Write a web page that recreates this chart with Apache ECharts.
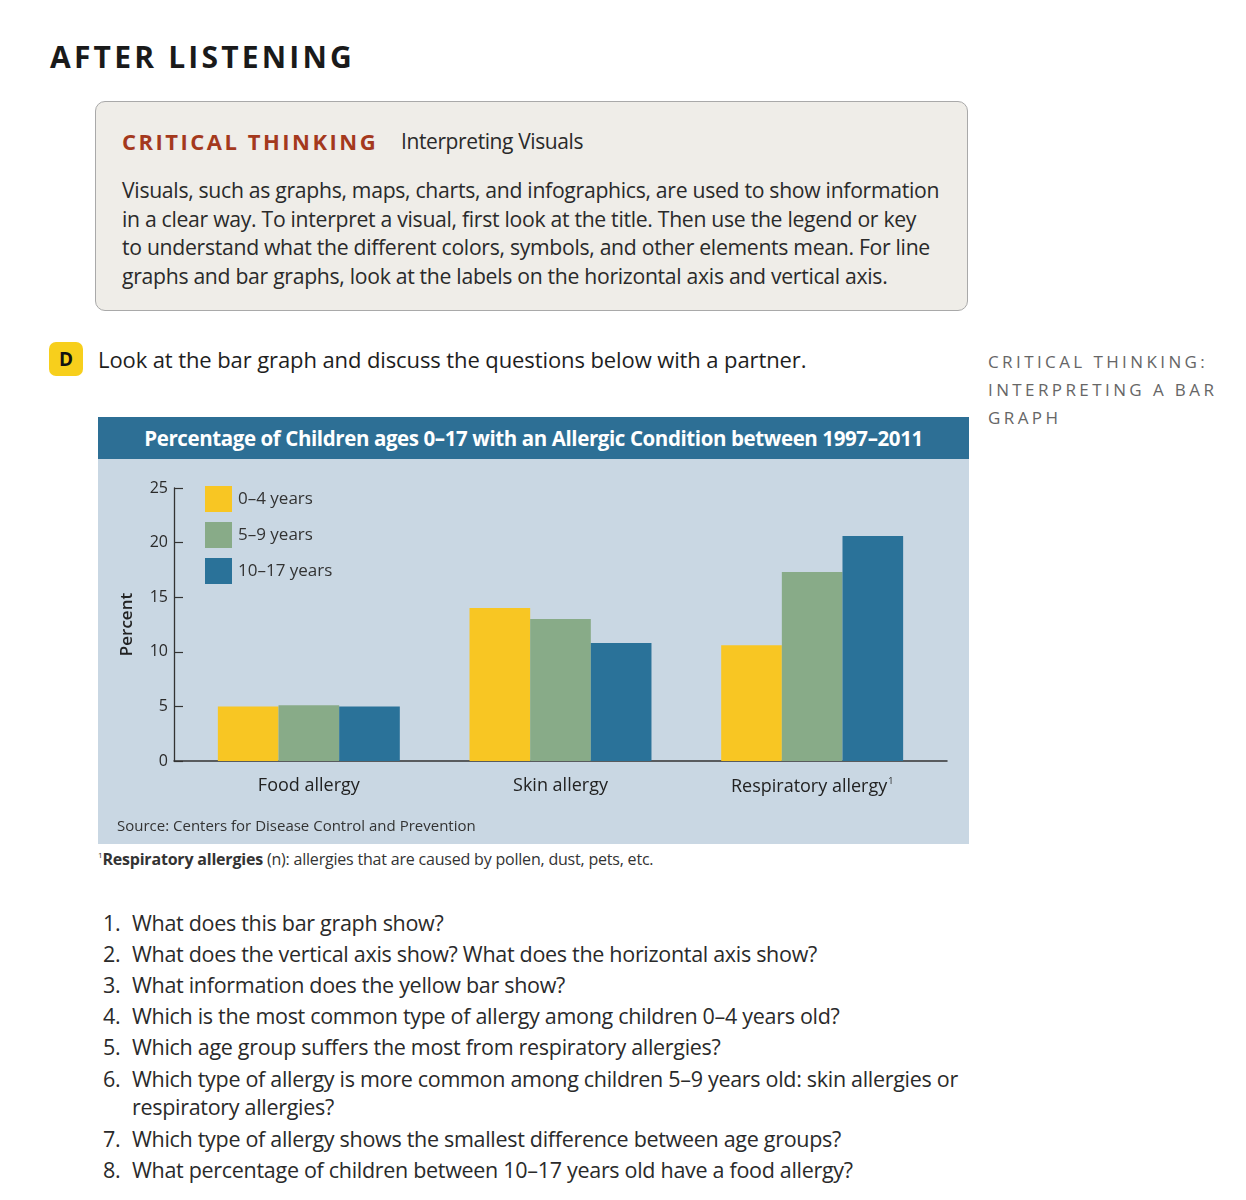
<!DOCTYPE html>
<html>
<head>
<meta charset="utf-8">
<script src="https://cdn.jsdelivr.net/npm/echarts@6/dist/echarts.min.js"></script>
<style>
  html,body{margin:0;padding:0;background:#fff;}
  body{width:1246px;height:1200px;position:relative;font-family:"Open Sans","Noto Sans",sans-serif;color:#222;overflow:hidden;}
  .abs{position:absolute;white-space:nowrap;}
  #h1{left:50px;top:36px;font-size:30px;font-weight:700;letter-spacing:3.2px;color:#1a1a1a;}
  #ctbox{left:95px;top:101px;width:873px;height:210px;background:#efede8;border:1.5px solid #a9a9a9;border-radius:10px;box-sizing:border-box;}
  #cthead{left:122px;top:126px;font-size:22px;font-weight:700;letter-spacing:2.5px;color:#a4391d;}
  #ctsub{left:401px;top:127px;font-size:21px;color:#2a2a2a;letter-spacing:-0.4px;}
  .body{left:122px;font-size:21.2px;color:#2a2a2a;letter-spacing:-0.3px;}
  #badge{left:49px;top:342px;width:34px;height:34px;background:#f7cf1c;border-radius:7px;font-weight:700;font-size:19px;text-align:center;line-height:34px;color:#111;}
  #dtext{left:98px;top:344px;font-size:22px;font-weight:500;color:#1e1e1e;letter-spacing:-0.1px;}
  .side{left:988px;font-size:17px;letter-spacing:3.4px;color:#666;}
  #hdr{left:98px;top:417px;width:871px;height:42px;background:#2d6f95;color:#fff;font-size:20.5px;font-weight:700;text-align:center;line-height:42px;letter-spacing:-0.4px;}
  #chart{position:absolute;left:98px;top:459px;width:871px;height:385px;}
  #foot{left:98px;top:848px;font-size:16px;color:#333;letter-spacing:-0.2px;}
  .q{font-size:21.5px;color:#2a2a2a;letter-spacing:-0.3px;}
  .qn{left:103px;}
  .qt{left:132px;}
</style>
</head>
<body>
<div class="abs" id="h1">AFTER LISTENING</div>
<div class="abs" id="ctbox"></div>
<div class="abs" id="cthead">CRITICAL THINKING</div>
<div class="abs" id="ctsub">Interpreting Visuals</div>
<div class="abs body" style="top:175px">Visuals, such as graphs, maps, charts, and infographics, are used to show information</div>
<div class="abs body" style="top:204px">in a clear way. To interpret a visual, first look at the title. Then use the legend or key</div>
<div class="abs body" style="top:232px">to understand what the different colors, symbols, and other elements mean. For line</div>
<div class="abs body" style="top:261px">graphs and bar graphs, look at the labels on the horizontal axis and vertical axis.</div>

<div class="abs" id="badge">D</div>
<div class="abs" id="dtext">Look at the bar graph and discuss the questions below with a partner.</div>
<div class="abs side" style="top:350px">CRITICAL THINKING:</div>
<div class="abs side" style="top:378px">INTERPRETING A BAR</div>
<div class="abs side" style="top:406px">GRAPH</div>

<div class="abs" id="hdr">Percentage of Children ages 0–17 with an Allergic Condition between 1997–2011</div>
<div id="chart"></div>
<div class="abs" id="foot"><sup style="font-size:8px;vertical-align:7px">1</sup><b style="font-weight:700">Respiratory allergies</b> (n): allergies that are caused by pollen, dust, pets, etc.</div>

<div id="qs"></div>

<script>
// ---- data ----
const categories = ['Food allergy', 'Skin allergy', 'Respiratory allergy'];
const footnoteMark = ['', '', '1'];
const seriesNames = ['0–4 years', '5–9 years', '10–17 years'];
const age0to4 = [5.0, 14.0, 10.6];
const age5to9 = [5.1, 13.0, 17.3];
const age10to17 = [5.0, 10.8, 20.6];
const yTicks = [0, 5, 10, 15, 20, 25];
const questions = [
  ['1.', 'What does this bar graph show?'],
  ['2.', 'What does the vertical axis show? What does the horizontal axis show?'],
  ['3.', 'What information does the yellow bar show?'],
  ['4.', 'Which is the most common type of allergy among children 0–4 years old?'],
  ['5.', 'Which age group suffers the most from respiratory allergies?'],
  ['6.', 'Which type of allergy is more common among children 5–9 years old: skin allergies or'],
  ['', 'respiratory allergies?'],
  ['7.', 'Which type of allergy shows the smallest difference between age groups?'],
  ['8.', 'What percentage of children between 10–17 years old have a food allergy?']
];

// questions text
const qTops = [908, 939, 970, 1001, 1032, 1064, 1092, 1124, 1155];
const qs = document.getElementById('qs');
questions.forEach((q, i) => {
  if (q[0]) {
    const n = document.createElement('div');
    n.className = 'abs q qn'; n.style.top = qTops[i] + 'px'; n.textContent = q[0];
    qs.appendChild(n);
  }
  const t = document.createElement('div');
  t.className = 'abs q qt'; t.style.top = qTops[i] + 'px'; t.textContent = q[1];
  qs.appendChild(t);
});

const colors = ['#f8c623', '#88ab88', '#2a7299'];
const font = '"Open Sans","Noto Sans",sans-serif';
const chart = echarts.init(document.getElementById('chart'));
const seriesData = [age0to4, age5to9, age10to17];
chart.setOption({
  backgroundColor: '#c9d7e3',
  animation: false,
  textStyle: { fontFamily: font },
  title: {
    text: 'Source: Centers for Disease Control and Prevention',
    left: 19, top: 360, padding: 0,
    textStyle: { fontSize: 15, fontWeight: 'normal', color: '#333', fontFamily: font }
  },
  legend: {
    orient: 'vertical', left: 107, top: 27, padding: 0,
    itemWidth: 27, itemHeight: 26, itemGap: 10,
    icon: 'rect',
    textStyle: { fontSize: 17, color: '#333', fontFamily: font, padding: [5, 0, 0, 1] },
    data: seriesNames
  },
  grid: [
    { left: 85, right: 31, top: 29, bottom: 83 },
    { left: 76, right: 22, top: 29, bottom: 83 }
  ],
  xAxis: [
    {
      type: 'category', gridIndex: 0, data: categories,
      axisLine: { show: false }, axisTick: { show: false },
      axisLabel: {
        interval: 0, margin: 16, fontSize: 18, color: '#222', fontWeight: 500,
        formatter: function (v, i) { return footnoteMark[i] ? v + '{sup|' + footnoteMark[i] + '}' : v; },
        rich: { sup: { fontSize: 9, color: '#222', padding: [0, 0, 10, 1] } }
      }
    },
    {
      type: 'value', gridIndex: 1, min: 0, max: 1,
      axisLine: { show: true, lineStyle: { color: '#333', width: 1.5 } },
      axisTick: { show: false }, axisLabel: { show: false }, splitLine: { show: false }
    }
  ],
  yAxis: [
    { type: 'value', gridIndex: 0, min: 0, max: 25, interval: 5, show: false },
    {
      type: 'value', gridIndex: 1, min: 0, max: 25, interval: 5,
      name: 'Percent', nameLocation: 'middle', nameGap: 38, nameRotate: 90,
      nameTextStyle: { fontSize: 17, fontWeight: 600, color: '#222', fontFamily: font },
      axisLine: { show: true, lineStyle: { color: '#333', width: 1.3 } },
      axisTick: { show: true, inside: true, length: 9, lineStyle: { color: '#333', width: 1.2 } },
      axisLabel: { margin: 6, fontSize: 16, color: '#2a2a2a', fontWeight: 'normal', formatter: v => yTicks.includes(v) ? String(v) : '' },
      splitLine: { show: false }
    }
  ],
  series: seriesNames.map((name, k) => ({
    name: name, type: 'bar', xAxisIndex: 0, yAxisIndex: 0,
    data: seriesData[k],
    barGap: '0%', barCategoryGap: '27.7%',
    itemStyle: { color: colors[k] }
  }))
});
</script>
</body>
</html>
